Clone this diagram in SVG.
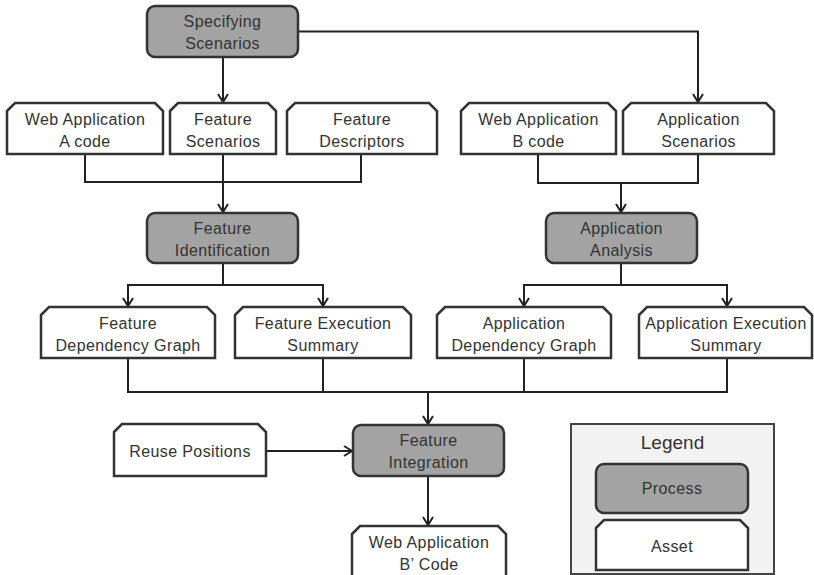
<svg xmlns="http://www.w3.org/2000/svg" width="814" height="575" viewBox="0 0 814 575">
  <style>
    .proc { fill: #a3a3a3; stroke: #333; stroke-width: 2.5; }
    .asset { fill: #fff; stroke: #333; stroke-width: 2.5; }
    .legend { fill: #f2f2f2; stroke: #444; stroke-width: 2; }
    .lbl { font-family: "Liberation Sans", Arial, sans-serif; font-size: 16px; letter-spacing: 0.4px; fill: #333; text-anchor: middle; }
    .title { font-family: "Liberation Sans", Arial, sans-serif; font-size: 19px; fill: #333; text-anchor: middle; }
    .wire { fill: none; stroke: #222; stroke-width: 2; }
    .arrow { fill: none; stroke: #222; stroke-width: 2; marker-end: url(#head); }
  </style>
  <defs>
    <marker id="head" markerUnits="userSpaceOnUse" markerWidth="14" markerHeight="14" viewBox="0 0 14 14" refX="11" refY="7" orient="auto">
      <path d="M3,2 L11,7 L3,12" fill="none" stroke="#222" stroke-width="2"/>
    </marker>
  </defs>

  <rect width="814" height="575" fill="#fff"/>

  <!-- connectors -->
  <g id="connectors">
    <path class="arrow" d="M223,57 V102"/>
    <path class="arrow" d="M298,31.5 H698 V102"/>
    <path class="wire" d="M85,154 V182 H361 V154"/>
    <path class="arrow" d="M223,154 V212"/>
    <path class="wire" d="M538,154 V183 H698 V154"/>
    <path class="arrow" d="M621,183 V212"/>
    <path class="wire" d="M223,263 V285"/>
    <path class="arrow" d="M223,285 H128 V306"/>
    <path class="arrow" d="M223,285 H323 V306"/>
    <path class="wire" d="M621,263 V285"/>
    <path class="arrow" d="M621,285 H524 V306"/>
    <path class="arrow" d="M621,285 H727 V306"/>
    <path class="wire" d="M128,358 V392 H727 V358"/>
    <path class="wire" d="M323,358 V392"/>
    <path class="wire" d="M524,358 V392"/>
    <path class="arrow" d="M428,392 V424"/>
    <path class="arrow" d="M266,451 H352"/>
    <path class="arrow" d="M428,476 V525"/>
  </g>

  <!-- processes -->
  <g id="specifying-scenarios">
    <rect class="proc" x="147" y="6" width="151" height="51" rx="8"/>
    <text class="lbl" x="222.5" y="27">Specifying</text>
    <text class="lbl" x="222.5" y="49">Scenarios</text>
  </g>
  <g id="feature-identification">
    <rect class="proc" x="147" y="213" width="151" height="50" rx="8"/>
    <text class="lbl" x="222.5" y="234">Feature</text>
    <text class="lbl" x="222.5" y="256">Identification</text>
  </g>
  <g id="application-analysis">
    <rect class="proc" x="546" y="213" width="151" height="50" rx="8"/>
    <text class="lbl" x="621.5" y="234">Application</text>
    <text class="lbl" x="621.5" y="256">Analysis</text>
  </g>
  <g id="feature-integration">
    <rect class="proc" x="353" y="425" width="151" height="51" rx="8"/>
    <text class="lbl" x="428.5" y="446">Feature</text>
    <text class="lbl" x="428.5" y="468">Integration</text>
  </g>

  <!-- assets -->
  <g id="web-app-a-code">
    <path class="asset" d="M7,111 L15,103 H155 L163,111 V154 H7 Z"/>
    <text class="lbl" x="85" y="125">Web Application</text>
    <text class="lbl" x="85" y="147">A code</text>
  </g>
  <g id="feature-scenarios">
    <path class="asset" d="M170,111 L178,103 H268 L276,111 V154 H170 Z"/>
    <text class="lbl" x="223" y="125">Feature</text>
    <text class="lbl" x="223" y="147">Scenarios</text>
  </g>
  <g id="feature-descriptors">
    <path class="asset" d="M287,111 L295,103 H429 L437,111 V154 H287 Z"/>
    <text class="lbl" x="362" y="125">Feature</text>
    <text class="lbl" x="362" y="147">Descriptors</text>
  </g>
  <g id="web-app-b-code">
    <path class="asset" d="M461,111 L469,103 H608 L616,111 V154 H461 Z"/>
    <text class="lbl" x="538.5" y="125">Web Application</text>
    <text class="lbl" x="538.5" y="147">B code</text>
  </g>
  <g id="application-scenarios">
    <path class="asset" d="M623,111 L631,103 H766 L774,111 V154 H623 Z"/>
    <text class="lbl" x="698.5" y="125">Application</text>
    <text class="lbl" x="698.5" y="147">Scenarios</text>
  </g>
  <g id="feature-dependency-graph">
    <path class="asset" d="M41,315 L49,307 H207 L215,315 V358 H41 Z"/>
    <text class="lbl" x="128" y="329">Feature</text>
    <text class="lbl" x="128" y="351">Dependency Graph</text>
  </g>
  <g id="feature-execution-summary">
    <path class="asset" d="M235,315 L243,307 H403 L411,315 V358 H235 Z"/>
    <text class="lbl" x="323" y="329">Feature Execution</text>
    <text class="lbl" x="323" y="351">Summary</text>
  </g>
  <g id="application-dependency-graph">
    <path class="asset" d="M437,315 L445,307 H603 L611,315 V358 H437 Z"/>
    <text class="lbl" x="524" y="329">Application</text>
    <text class="lbl" x="524" y="351">Dependency Graph</text>
  </g>
  <g id="application-execution-summary">
    <path class="asset" d="M639,315 L647,307 H804 L812,315 V358 H639 Z"/>
    <text class="lbl" x="726" y="329">Application Execution</text>
    <text class="lbl" x="726" y="351">Summary</text>
  </g>
  <g id="reuse-positions">
    <path class="asset" d="M114,432 L122,424 H258 L266,432 V476 H114 Z"/>
    <text class="lbl" x="190" y="457">Reuse Positions</text>
  </g>
  <g id="web-app-b-prime-code">
    <path class="asset" d="M352,534 L360,526 H498 L506,534 V578 H352 Z"/>
    <text class="lbl" x="429" y="548">Web Application</text>
    <text class="lbl" x="429" y="570">B’ Code</text>
  </g>

  <!-- legend -->
  <g id="legend">
    <rect class="legend" x="571" y="424" width="203" height="150"/>
    <text class="title" x="672.5" y="449">Legend</text>
    <rect class="proc" x="596" y="464" width="152" height="49" rx="8"/>
    <text class="lbl" x="672" y="494">Process</text>
    <path class="asset" d="M596,528 L604,520 H740 L748,528 V570 H596 Z"/>
    <text class="lbl" x="672" y="552">Asset</text>
  </g>
</svg>
